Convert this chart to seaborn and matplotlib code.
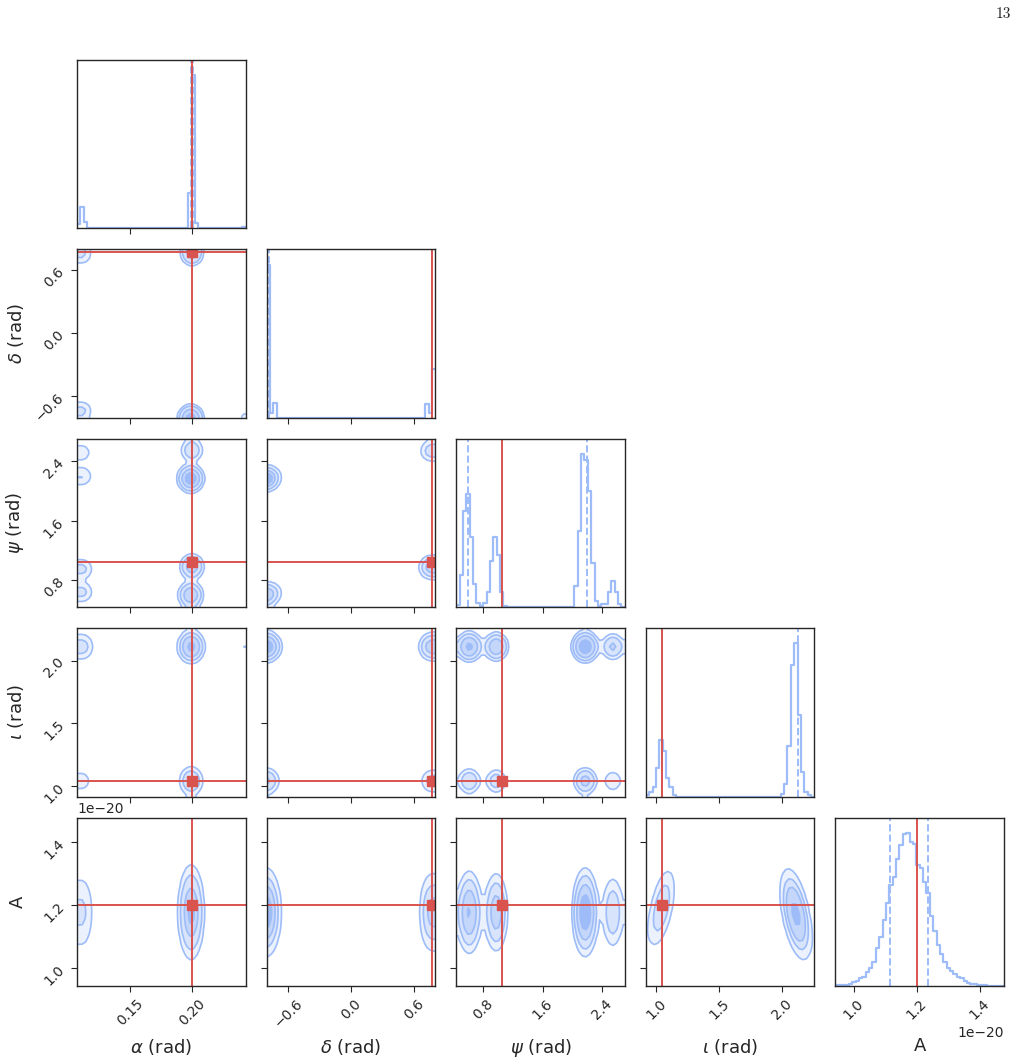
import numpy as np
import pandas as pd
import matplotlib
matplotlib.use("Agg")
import matplotlib.pyplot as plt
import seaborn as sns
from matplotlib.colors import to_rgba

# parameters (A in units of 1e-20)
labels = [r"$\alpha$ (rad)", r"$\delta$ (rad)", r"$\psi$ (rad)", r"$\iota$ (rad)", "A"]
ranges = [(0.107, 0.2435), (-0.805, 0.799), (0.435, 2.706), (0.915, 2.258), (0.942, 1.477)]
truths = [0.200, 0.771, 1.047, 1.043, 1.200]
ticks = [[0.15, 0.20], [-0.6, 0.0, 0.6], [0.8, 1.6, 2.4], [1.0, 1.5, 2.0], [1.0, 1.2, 1.4]]
quantiles = [[0.1995, 0.2005], [-0.78, 0.771], [0.59, 2.20], [1.045, 2.127], [1.116, 1.237]]
units = [1, 1, 1, 1, 1e-20]

# 1D histograms, 50 bins over each range (relative heights)
hist_alpha = [3, 14, 4] + [0] * 30 + [23, 100, 3.5] + [0] * 12 + [0.5, 1]
hist_delta = [100, 3, 10] + [0] * 44 + [9, 3, 32]
hist_psi = [1.5, 21, 63, 74, 46, 15, 3, 1, 3, 10, 30, 46, 34, 10, 1] + [0] * 20 + \
           [14, 50, 100, 96, 76, 29, 4, 1, 2, 2, 10, 17, 10, 2, 0]
hist_iota = [1, 3, 6, 19, 37, 30, 12, 6, 1] + [0] * 31 + [2, 8, 33, 86, 100, 53, 16, 3, 1, 0]
hist_A = [0.4, 0.5, 0.7, 0.9, 1.3, 2.4, 3.5, 5, 6, 9, 12, 16, 25, 32, 43, 54, 66, 71, 83, 92,
          99, 100, 94, 93, 79, 77, 68, 61, 46, 36, 27, 21, 16, 12, 10, 8, 6, 5, 3, 2,
          1.3, 1, 0.7, 0.5, 0.4, 0.3, 0.2, 0.2, 0.1, 0.1]
hists = [hist_alpha, hist_delta, hist_psi, hist_iota, hist_A]

# posterior modes used for the 2D contours
# sky position / polarisation modes (alpha, delta, psi)
sky_alpha = [0.199, 0.199, 0.200, 0.200, 0.112, 0.112, 0.112, 0.112, 0.2435, 0.2435, 0.2435]
sky_delta = [-0.80, -0.80, 0.75, 0.75, -0.73, -0.73, 0.74, 0.74, -0.80, -0.80, -0.80]
sky_psi = [0.60, 2.17, 0.98, 2.55, 0.64, 2.20, 0.95, 2.52, 0.65, 2.15, 2.55]
sky_weight = [0.20, 0.30, 0.16, 0.09, 0.05, 0.04, 0.05, 0.03, 0.018, 0.018, 0.015]
sky_width = [0.0025, 0.03, 0.05]
# inclination / amplitude modes (iota, A)
inc_iota = [1.04, 2.11]
inc_A = [1.19, 1.17]
inc_weight = [0.30, 0.70]
inc_width_iota = [0.042, 0.042]
inc_width_A = [0.065, 0.065]
inc_corr = [0.75, -0.7]

color = "#9dbcf8"
red = "#d9534f"
n = len(labels)
smooth = 1.5


def gauss(x, m, s):
    return np.exp(-0.5 * ((x - m) / s) ** 2) / s


def marginal(k, x):
    if k <= 2:
        cols = [sky_alpha, sky_delta, sky_psi]
        return sum(w * gauss(x, m, sky_width[k]) for w, m in zip(sky_weight, cols[k]))
    if k == 3:
        return sum(w * gauss(x, m, s) for w, m, s in zip(inc_weight, inc_iota, inc_width_iota))
    return sum(w * gauss(x, m, s) for w, m, s in zip(inc_weight, inc_A, inc_width_A))


def density(i, j, X, Y):
    if i <= 2 and j <= 2:
        cols = [sky_alpha, sky_delta, sky_psi]
        H = np.zeros_like(X)
        for c, w in enumerate(sky_weight):
            H += w * gauss(X, cols[j][c], sky_width[j]) * gauss(Y, cols[i][c], sky_width[i])
        return H
    if i == 4 and j == 3:
        H = np.zeros_like(X)
        for w, mx, my, sx, sy, r in zip(inc_weight, inc_iota, inc_A, inc_width_iota, inc_width_A, inc_corr):
            dx, dy = (X - mx) / sx, (Y - my) / sy
            z = (dx ** 2 - 2 * r * dx * dy + dy ** 2) / (1 - r ** 2)
            H += w * np.exp(-0.5 * z) / (sx * sy * np.sqrt(1 - r ** 2))
        return H
    return marginal(i, Y) * marginal(j, X)


def smooth2d(H, s):
    r = int(np.ceil(4 * s))
    k = np.exp(-0.5 * (np.arange(-r, r + 1) / s) ** 2)
    k /= k.sum()
    P = np.pad(H, r, mode="symmetric")
    P = np.apply_along_axis(lambda v: np.convolve(v, k, mode="valid"), 0, P)
    P = np.apply_along_axis(lambda v: np.convolve(v, k, mode="valid"), 1, P)
    return P


def pad_grid(c):
    d0, d1 = c[1] - c[0], c[-1] - c[-2]
    return np.concatenate([c[0] + np.array([-2, -1]) * d0, c, c[-1] + np.array([1, 2]) * d1])


def pad_hist(H):
    H2 = H.min() + np.zeros((H.shape[0] + 4, H.shape[1] + 4))
    H2[2:-2, 2:-2] = H
    H2[2:-2, 1] = H[:, 0]
    H2[2:-2, -2] = H[:, -1]
    H2[1, 2:-2] = H[0]
    H2[-2, 2:-2] = H[-1]
    H2[1, 1], H2[1, -2] = H[0, 0], H[0, -1]
    H2[-2, 1], H2[-2, -2] = H[-1, 0], H[-1, -1]
    return H2


def mass_levels(H):
    lv = 1 - np.exp(-0.5 * np.arange(0.5, 2.1, 0.5) ** 2)
    flat = np.sort(H.ravel())[::-1]
    cum = np.cumsum(flat)
    cum /= cum[-1]
    V = np.array([flat[cum <= l][-1] for l in lv])
    V.sort()
    return V


sns.set_style("ticks")
plt.rcParams["font.family"] = ["DejaVu Sans"]
plt.rcParams["xtick.direction"] = "out"
plt.rcParams["ytick.direction"] = "out"

fig, axes = plt.subplots(n, n, figsize=(10.19, 10.64), dpi=100)
fig.subplots_adjust(left=0.0756, right=0.9853, bottom=0.0733, top=0.9436, wspace=0.124, hspace=0.124)

base = to_rgba(color)
fill_colors = [(base[0], base[1], base[2], a) for a in [0.2, 0.4, 0.6, 1.0]]
nb = 50

for i in range(n):
    for j in range(n):
        ax = axes[i, j]
        if j > i:
            ax.axis("off")
            continue
        xlo, xhi = ranges[j]
        ux = units[j]
        if i == j:
            edges = np.linspace(xlo, xhi, len(hists[i]) + 1) * ux
            df = pd.DataFrame({"x": 0.5 * (edges[1:] + edges[:-1]), "h": hists[i]})
            sns.histplot(data=df, x="x", weights="h", bins=edges.tolist(), element="step",
                         fill=False, color=color, linewidth=1.6, ax=ax)
            for q in quantiles[i]:
                ax.axvline(q * ux, color=color, ls="--", lw=1.4)
            ax.axvline(truths[i] * ux, color=red, lw=1.4)
            ax.set_ylim(0, 1.1 * max(hists[i]))
            ax.set_yticks([])
            ax.set_ylabel("")
        else:
            ylo, yhi = ranges[i]
            uy = units[i]
            ex = np.linspace(xlo, xhi, nb + 1)
            ey = np.linspace(ylo, yhi, nb + 1)
            cx = 0.5 * (ex[1:] + ex[:-1])
            cy = 0.5 * (ey[1:] + ey[:-1])
            X, Y = np.meshgrid(cx, cy)
            H = smooth2d(density(i, j, X, Y), smooth)
            V = mass_levels(H)
            H2 = pad_hist(H)
            X2, Y2 = np.meshgrid(pad_grid(cx) * ux, pad_grid(cy) * uy)
            ax.contourf(X2, Y2, H2, list(V) + [H.max() * 1.0001], colors=fill_colors,
                        antialiased=True)
            ax.contour(X2, Y2, H2, V, colors=[color], linewidths=1.2)
            ax.axvline(truths[j] * ux, color=red, lw=1.4)
            ax.axhline(truths[i] * uy, color=red, lw=1.4)
            ax.plot(truths[j] * ux, truths[i] * uy, "s", color=red, ms=6.5)
            ax.set_ylim(ylo * uy, yhi * uy)
            ax.set_yticks([t * uy for t in ticks[i]])
            if j == 0:
                ax.tick_params(axis="y", labelrotation=45, labelsize=10)
                ax.set_ylabel(labels[i], fontsize=13)
                ax.yaxis.set_label_coords(-0.3, 0.5)
            else:
                ax.set_yticklabels([])
                ax.set_ylabel("")
        ax.set_xlim(xlo * ux, xhi * ux)
        ax.set_xticks([t * ux for t in ticks[j]])
        if i == n - 1:
            ax.tick_params(axis="x", labelrotation=45, labelsize=10)
            ax.set_xlabel(labels[j], fontsize=13)
            ax.xaxis.set_label_coords(0.5, -0.3)
        else:
            ax.set_xticklabels([])
            ax.set_xlabel("")
        ax.tick_params(length=4, width=0.8)
        for sp in ax.spines.values():
            sp.set_visible(True)
            sp.set_linewidth(1.0)

fig.text(1003 / 1019, 1 - 14 / 1064, "13", ha="center", va="center", fontsize=11, family="cmr10")

fig.savefig("out.png", dpi=100)
